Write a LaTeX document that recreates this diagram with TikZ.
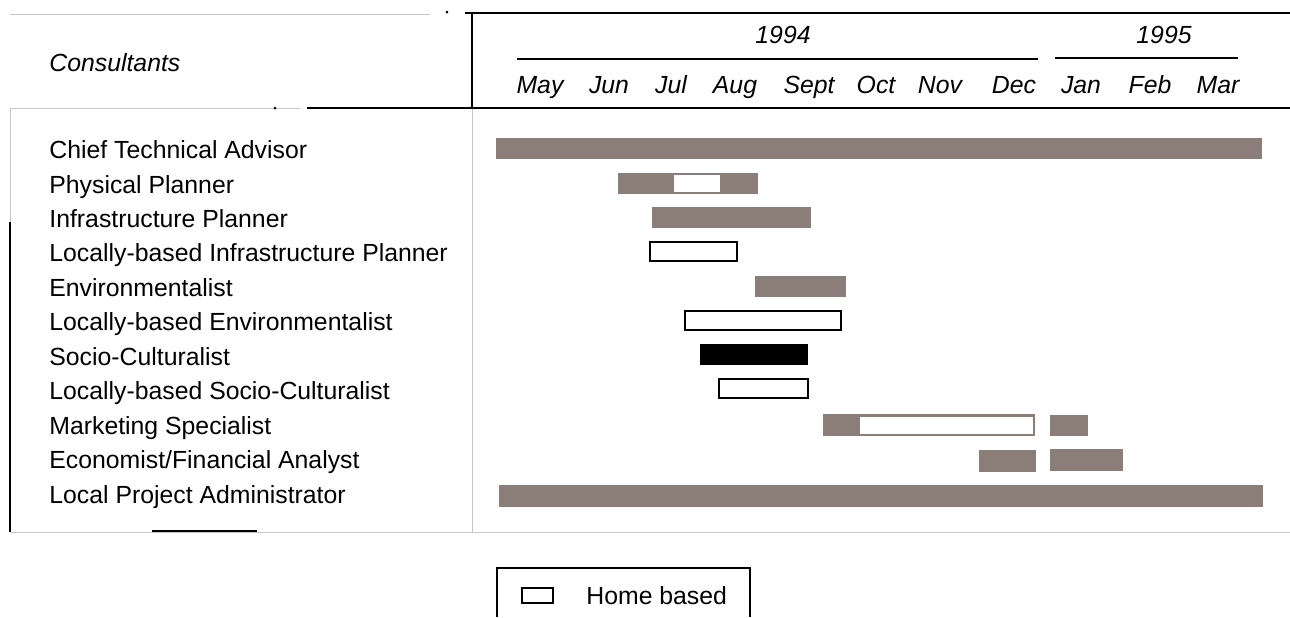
\documentclass[tikz,border=0pt]{standalone}
\usepackage{fontspec}
\setmainfont{Liberation Sans}
\usepackage{xcolor}
\definecolor{barbrown}{RGB}{139,125,119}

\begin{document}
\begin{tikzpicture}[
  x=0.5pt, y=-0.5pt,
  every node/.style={font=\fontsize{12.4}{14}\selectfont, inner sep=0pt},
  role/.style={anchor=base west},
  month/.style={anchor=base, font=\fontsize{12.4}{14}\selectfont\itshape},
  rule/.style={line width=0.8pt},
  faint/.style={gray!45, line width=0.5pt},
  fieldbar/.style={fill=barbrown},
  homebar/.style={draw=black, line width=1.1pt, fill=white}
]
\useasboundingbox (0,0) rectangle (1290,617);

% ---- FRAME ----
\draw[faint] (10,14) -- (430,14);
\fill (447,12) circle (1.5);
\draw[rule] (465,13) -- (1290,13);
\draw[rule] (472,13) -- (472,108);
\draw[faint] (472,108) -- (472,532);
\draw[faint] (10,108) -- (300,108);
\fill (275,108) circle (1.5);
\draw[rule] (307,108) -- (1290,108);
\draw[faint] (10,108) -- (10,222);
\draw[rule] (10,222) -- (10,532);
\draw[faint] (10,532) -- (1290,532);
\draw[rule] (152,531) -- (257,531);

% ---- HEADER ----
\node[role, font=\fontsize{12.4}{14}\selectfont\itshape] (consult) at (49,71) {Consultants};

\node[month] (y94) at (783,43) {1994};
\node[month] (y95) at (1164,43) {1995};
\draw[rule] (517,59) -- (1038,59);
\draw[rule] (1055,58) -- (1238,58);

\node[month] (may)  at (540,93)  {May};
\node[month] (jun)  at (609,93)  {Jun};
\node[month] (jul)  at (671,93)  {Jul};
\node[month] (aug)  at (735,93)  {Aug};
\node[month] (sep)  at (809,93)  {Sept};
\node[month] (oct)  at (876,93)  {Oct};
\node[month] (nov)  at (940,93)  {Nov};
\node[month] (dec)  at (1014,93) {Dec};
\node[month] (jan)  at (1081,93) {Jan};
\node[month] (feb)  at (1150,93) {Feb};
\node[month] (mar)  at (1218,93) {Mar};

% ==== CONSULTANTS ====
\node[role] (cta)   at (49,158) {Chief Technical Advisor};
\node[role] (phys)  at (49,193) {Physical Planner};
\node[role] (infra) at (49,227) {Infrastructure Planner};
\node[role] (linfra) at (49,261) {Locally-based Infrastructure Planner};
\node[role] (env)   at (49,296) {Environmentalist};
\node[role] (lenv)  at (49,330) {Locally-based Environmentalist};
\node[role] (socio) at (49,365) {Socio-Culturalist};
\node[role] (lsocio) at (49,399) {Locally-based Socio-Culturalist};
\node[role] (mkt)   at (49,434) {Marketing Specialist};
\node[role] (econ)  at (49,468) {Economist/Financial Analyst};
\node[role] (admin) at (49,503) {Local Project Administrator};

% ==== BARS ====
\fill[fieldbar] (496,138) rectangle (1262,159);

\fill[fieldbar] (618,173) rectangle (758,194);
\fill[white] (674,175) rectangle (720,192);

\fill[fieldbar] (652,207) rectangle (811,228);

\draw[homebar] (650,242) rectangle (737,261);

\fill[fieldbar] (755,276) rectangle (846,297);

\draw[homebar] (685,311) rectangle (841,330);

\fill[black] (700,344) rectangle (808,365);

\draw[homebar] (719,379) rectangle (808,398);

\fill[fieldbar] (823,414) rectangle (1035,436);
\fill[white] (860,416.5) rectangle (1033,433.5);
\fill[fieldbar] (1050,415) rectangle (1088,436);

\fill[fieldbar] (979,450) rectangle (1036,472);
\fill[fieldbar] (1050,449) rectangle (1123,471);

\fill[fieldbar] (499,485) rectangle (1263,507);

% ---- LEGEND ----
\draw[line width=1pt] (497,617) -- (497,568) -- (750,568) -- (750,617);
\draw[line width=0.6pt] (522,588) rectangle (553,603);
\node[role] (home) at (586,604) {Home based};

\end{tikzpicture}
\end{document}
